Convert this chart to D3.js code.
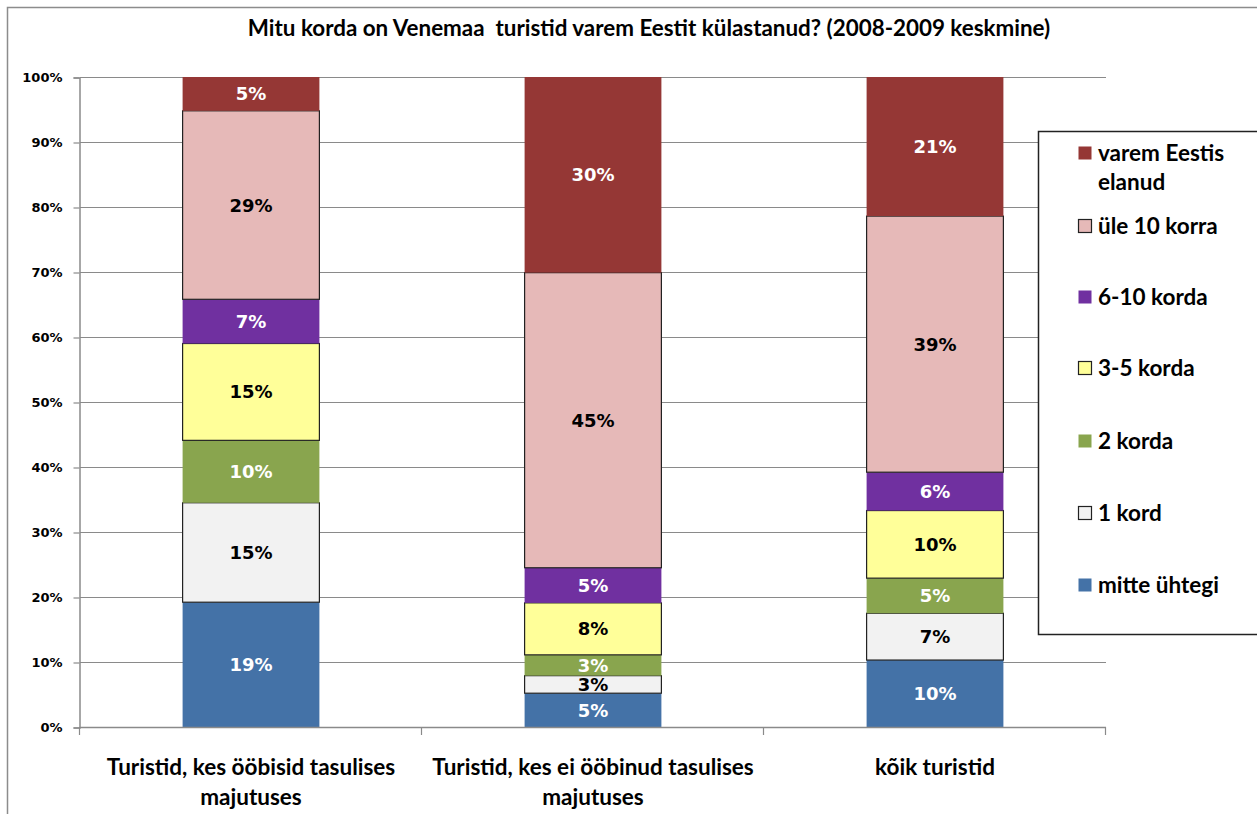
<!DOCTYPE html>
<html>
<head>
<meta charset="utf-8">
<script src="https://cdn.jsdelivr.net/npm/d3@7"></script>
<style>
  html, body { margin: 0; padding: 0; background: #fff; }
  svg { display: block; }
  .calib { font-family: Lato, "Open Sans", sans-serif; font-weight: 700; }
  .verd { font-family: "DejaVu Sans", Verdana, sans-serif; font-weight: 700; }
</style>
</head>
<body>
<div id="chart"></div>
<script>
// categories (each split into its two label lines)
const categories = [
  ["Turistid, kes ööbisid tasulises", "majutuses"],
  ["Turistid, kes ei ööbinud tasulises", "majutuses"],
  ["kõik turistid"]
];
const catNames = categories.map(c => c.join(" "));

// series, bottom to top
const seriesNames = ["mitte ühtegi", "1 kord", "2 korda", "3-5 korda", "6-10 korda", "üle 10 korra", "varem Eestis elanud"];
const mitteUhtegi = [19.2, 5.2, 10.3];
const uksKord = [15.3, 2.7, 7.2];
const kaksKorda = [9.6, 3.2, 5.4];
const kolmViisKorda = [14.9, 8.0, 10.4];
const kuusKummeKorda = [6.8, 5.4, 5.9];
const ule10Korra = [29.0, 45.4, 39.4];
const varemElanud = [5.2, 30.1, 21.4];
const seriesValues = [mitteUhtegi, uksKord, kaksKorda, kolmViisKorda, kuusKummeKorda, ule10Korra, varemElanud];

const yTicks = [0, 10, 20, 30, 40, 50, 60, 70, 80, 90, 100];
const title = "Mitu korda on Venemaa\u00a0 turistid varem Eestit külastanud? (2008-2009 keskmine)";

// look
const fills = ["#4472A7", "#F2F2F2", "#89A54E", "#FFFF99", "#7030A0", "#E6B9B8", "#953735"];
const outlined = [false, true, false, true, false, true, false];
const labelFill = ["#fff", "#000", "#fff", "#000", "#fff", "#000", "#fff"];

const W = 1257, H = 814;
const svg = d3.select("#chart").append("svg").attr("width", W).attr("height", H);

// outer chart frame
svg.append("rect")
  .attr("x", 7.5).attr("y", 7.5).attr("width", W + 20).attr("height", H + 20)
  .attr("fill", "none").attr("stroke", "#8c8c8c").attr("stroke-width", 1.5);

const x = d3.scaleBand().domain(catNames).range([80, 1106]).padding(0);
const y = d3.scaleLinear().domain([0, 100]).range([727, 77]);
const barW = x.bandwidth() * 0.4;

// rows for d3.stack
const table = catNames.map((c, i) => {
  const row = { cat: c };
  seriesNames.forEach((s, j) => { row[s] = seriesValues[j][i]; });
  return row;
});
const stacked = d3.stack().keys(seriesNames)(table);

// gridlines
svg.append("g")
  .selectAll("line")
  .data(yTicks.filter(t => t > 0))
  .join("line")
  .attr("x1", 80).attr("x2", 1106)
  .attr("y1", d => Math.round(y(d)) + 0.5).attr("y2", d => Math.round(y(d)) + 0.5)
  .attr("stroke", "#8a8a8a").attr("stroke-width", 1);

// y axis
const yAxis = svg.append("g")
  .attr("transform", "translate(79.5,0.5)")
  .call(d3.axisLeft(y).tickValues(yTicks).tickSize(6).tickPadding(11).tickFormat(d => d + "%"));
yAxis.select(".domain").attr("stroke", "#8a8a8a").attr("stroke-width", 1.5);
yAxis.selectAll(".tick line").attr("stroke", "#8a8a8a").attr("stroke-width", 1.2);
yAxis.selectAll(".tick text").attr("class", "verd").attr("font-size", 13).attr("fill", "#000");

// bars
const gBars = svg.append("g");
stacked.forEach((layer, j) => {
  gBars.append("g")
    .selectAll("rect")
    .data(layer)
    .join("rect")
    .attr("x", d => x(d.data.cat) + (x.bandwidth() - barW) / 2)
    .attr("y", d => y(d[1]))
    .attr("width", barW)
    .attr("height", d => y(d[0]) - y(d[1]))
    .attr("fill", fills[j])
    .attr("stroke", outlined[j] ? "#222" : "none")
    .attr("stroke-width", 1.2);
});

// x axis baseline + ticks at band edges
const edges = catNames.map(c => x(c)).concat([x.range()[1]]);
svg.append("line")
  .attr("x1", 79.5).attr("x2", 1106).attr("y1", 727.5).attr("y2", 727.5)
  .attr("stroke", "#8a8a8a").attr("stroke-width", 1.5);
svg.append("g")
  .selectAll("line")
  .data(edges)
  .join("line")
  .attr("x1", d => Math.round(d) - 0.5).attr("x2", d => Math.round(d) - 0.5)
  .attr("y1", 727).attr("y2", 735)
  .attr("stroke", "#8a8a8a").attr("stroke-width", 1.2);

// segment labels
const gLab = svg.append("g");
stacked.forEach((layer, j) => {
  gLab.append("g")
    .selectAll("text")
    .data(layer)
    .join("text")
    .attr("class", "verd")
    .attr("font-size", 18)
    .attr("text-anchor", "middle")
    .attr("fill", labelFill[j])
    .attr("x", d => x(d.data.cat) + x.bandwidth() / 2)
    .attr("y", d => (y(d[0]) + y(d[1])) / 2)
    .attr("dy", "0.36em")
    .text(d => Math.round(d[1] - d[0]) + "%");
});

// category labels
categories.forEach((lines, i) => {
  const t = svg.append("text")
    .attr("class", "calib")
    .attr("font-size", 22.5)
    .attr("text-anchor", "middle")
    .attr("fill", "#000")
    .attr("x", x(catNames[i]) + x.bandwidth() / 2)
    .attr("y", 775);
  lines.forEach((ln, k) => {
    t.append("tspan")
      .attr("x", x(catNames[i]) + x.bandwidth() / 2)
      .attr("dy", k === 0 ? 0 : 30)
      .text(ln);
  });
});

// title
svg.append("text")
  .attr("class", "calib")
  .attr("font-size", 22.4)
  .attr("text-anchor", "middle")
  .attr("x", 649).attr("y", 36)
  .attr("fill", "#000")
  .text(title);

// legend
const lg = svg.append("g");
lg.append("rect")
  .attr("x", 1038.5).attr("y", 131.5).attr("width", 240).attr("height", 503)
  .attr("fill", "#fff").attr("stroke", "#222").attr("stroke-width", 1.5);

const legendOrder = d3.range(seriesNames.length).reverse();
const legendY = [153, 226, 297, 368, 441, 513, 585];
legendOrder.forEach((j, k) => {
  const cy = legendY[k];
  lg.append("rect")
    .attr("x", 1078.5).attr("y", cy - 6.5).attr("width", 13).attr("height", 13)
    .attr("fill", fills[j])
    .attr("stroke", outlined[j] ? "#222" : "none").attr("stroke-width", 1.2);
  const words = seriesNames[j] === "varem Eestis elanud" ? ["varem Eestis", "elanud"] : [seriesNames[j]];
  const t = lg.append("text")
    .attr("class", "calib")
    .attr("font-size", 22.5)
    .attr("fill", "#000")
    .attr("x", 1098).attr("y", cy).attr("dy", "0.36em");
  words.forEach((w, i) => {
    t.append("tspan").attr("x", 1098).attr("dy", i === 0 ? "0.36em" : 29).text(w);
  });
});
</script>
</body>
</html>
